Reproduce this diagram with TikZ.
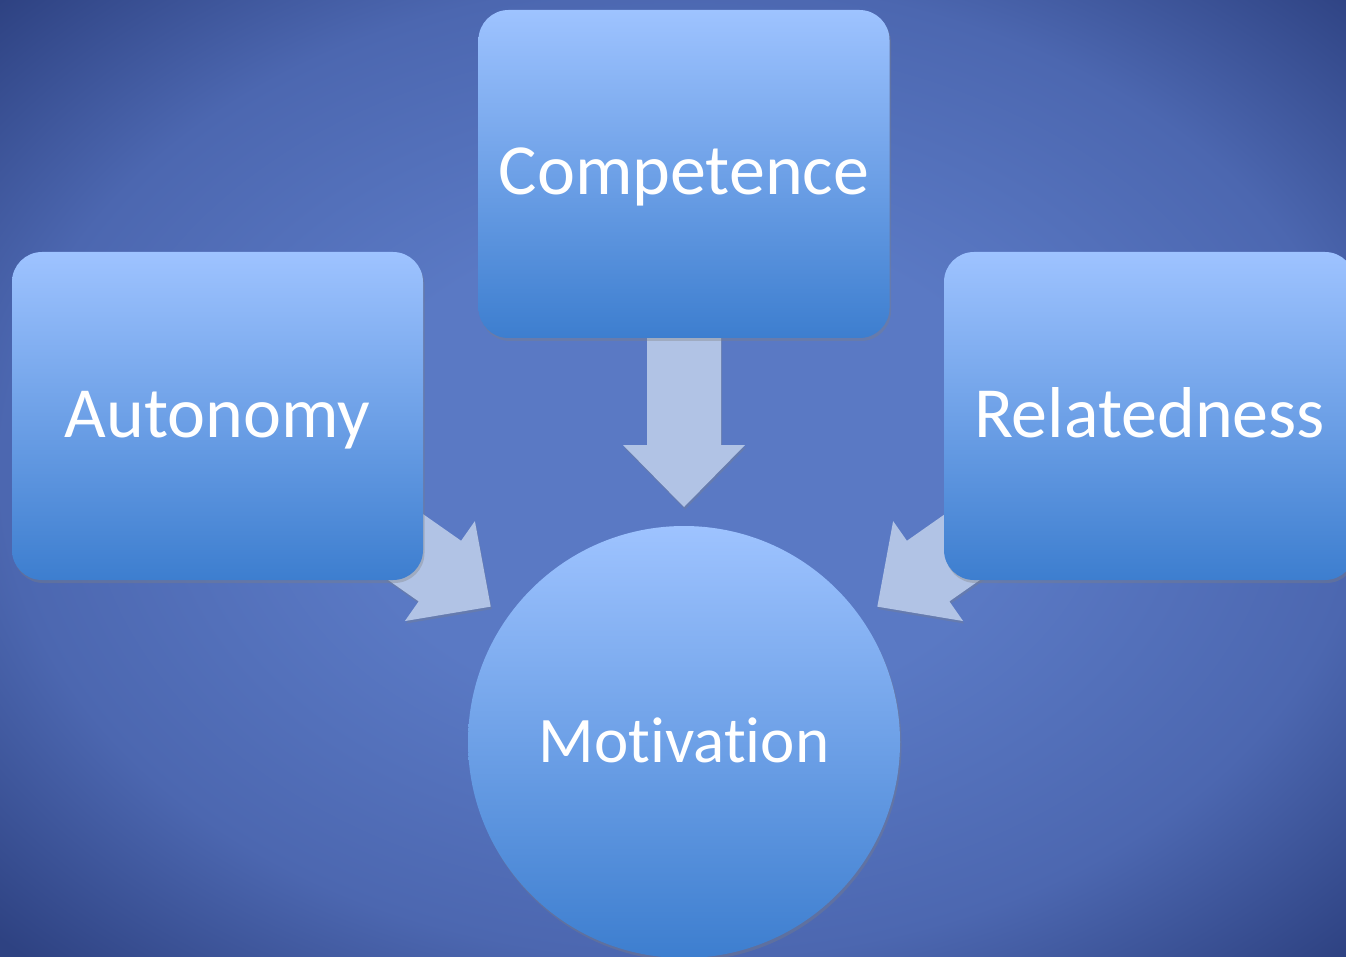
\documentclass[tikz,border=0pt]{standalone}
\usepackage{fontspec}
\setmainfont{Carlito}[Ligatures={NoCommon}]
\usetikzlibrary{calc,shadows}

\definecolor{bgA}{HTML}{5A79C4}
\definecolor{bgB}{HTML}{4C67B0}
\definecolor{bgC}{HTML}{2E4282}
\definecolor{boxTop}{HTML}{9EC3FF}
\definecolor{boxBot}{HTML}{3D7ECF}
\definecolor{arrowFill}{HTML}{B1C3E5}

% soft glow for the backdrop: 100bp across, centred on the origin
\pgfdeclareradialshading{bgglow}{\pgfpoint{0bp}{0bp}}{%
  color(0bp)=(bgA); color(18bp)=(bgA); color(36bp)=(bgB); color(50bp)=(bgC)}

\pgfdeclarelayer{back}
\pgfdeclarelayer{arrows}
\pgfsetlayers{back,arrows,main}

\tikzset{
  x=1pt, y=-1pt,
  label text/.style={text=white, font=\fontsize{72}{86}\selectfont,
    text height=56pt, text depth=14pt},
  card/.style={label text, rectangle, rounded corners=30pt,
    minimum width=411pt, minimum height=328pt,
    top color=boxTop, bottom color=boxBot, draw=none,
    drop shadow={opacity=0.35, shadow xshift=1.5pt, shadow yshift=-3pt}},
  disc/.style={label text, font=\fontsize{65}{78}\selectfont,
    text height=52pt, text depth=12pt,
    circle, minimum size=432pt, inner sep=0pt,
    top color=boxTop, bottom color=boxBot, draw=none,
    drop shadow={opacity=0.35, shadow xshift=1.5pt, shadow yshift=-3pt}},
  pics/blockarrow/.style={code={
    % tip at the origin, pointing along +x; #1 is the overall length
    \fill[arrowFill, drop shadow={opacity=0.3, shadow xshift=1pt, shadow yshift=-2.5pt}]
      (0,0) -- (-62,61) -- (-62,37) -- (-#1,37) -- (-#1,-37)
      -- (-62,-37) -- (-62,-61) -- cycle;
  }}
}

\begin{document}
\begin{tikzpicture}
  \useasboundingbox (0,0) rectangle (1346,957);
  \clip (0,0) rectangle (1346,957);

  \begin{pgfonlayer}{back}
    \fill[bgC] (0,0) rectangle (1346,957);
    \begin{scope}
      \clip (0,0) rectangle (1346,957);
      \pgftransformshift{\pgfpoint{684pt}{-470pt}}
      \pgftransformxscale{18.9}
      \pgftransformyscale{13.5}
      \pgflowlevelsynccm
      \pgfuseshading{bgglow}
    \end{scope}
  \end{pgfonlayer}

  % the three needs and the outcome
  \node[card] (comp) at (684,174)  {Competence};
  \node[card] (auto) at (217.5,416) {Autonomy};
  \node[card] (rel)  at (1149.5,416) {Relatedness};
  \node[disc] (mot)  at (684,742)  {Motivation};

  % arrow tips, a short gap outside the circle
  \coordinate (tipC) at ($(mot.center)!235pt!(mot.90)$);
  \coordinate (tipA) at ($(mot.center)!236pt!(mot.145)$);
  \coordinate (tipR) at ($(mot.center)!236pt!(mot.35)$);

  \begin{pgfonlayer}{arrows}
    \pic[rotate=-90] at (tipC) {blockarrow=180};
    \pic[rotate=-35] at (tipA) {blockarrow=160};
    \pic[rotate=-145] at (tipR) {blockarrow=160};
  \end{pgfonlayer}
\end{tikzpicture}
\end{document}
